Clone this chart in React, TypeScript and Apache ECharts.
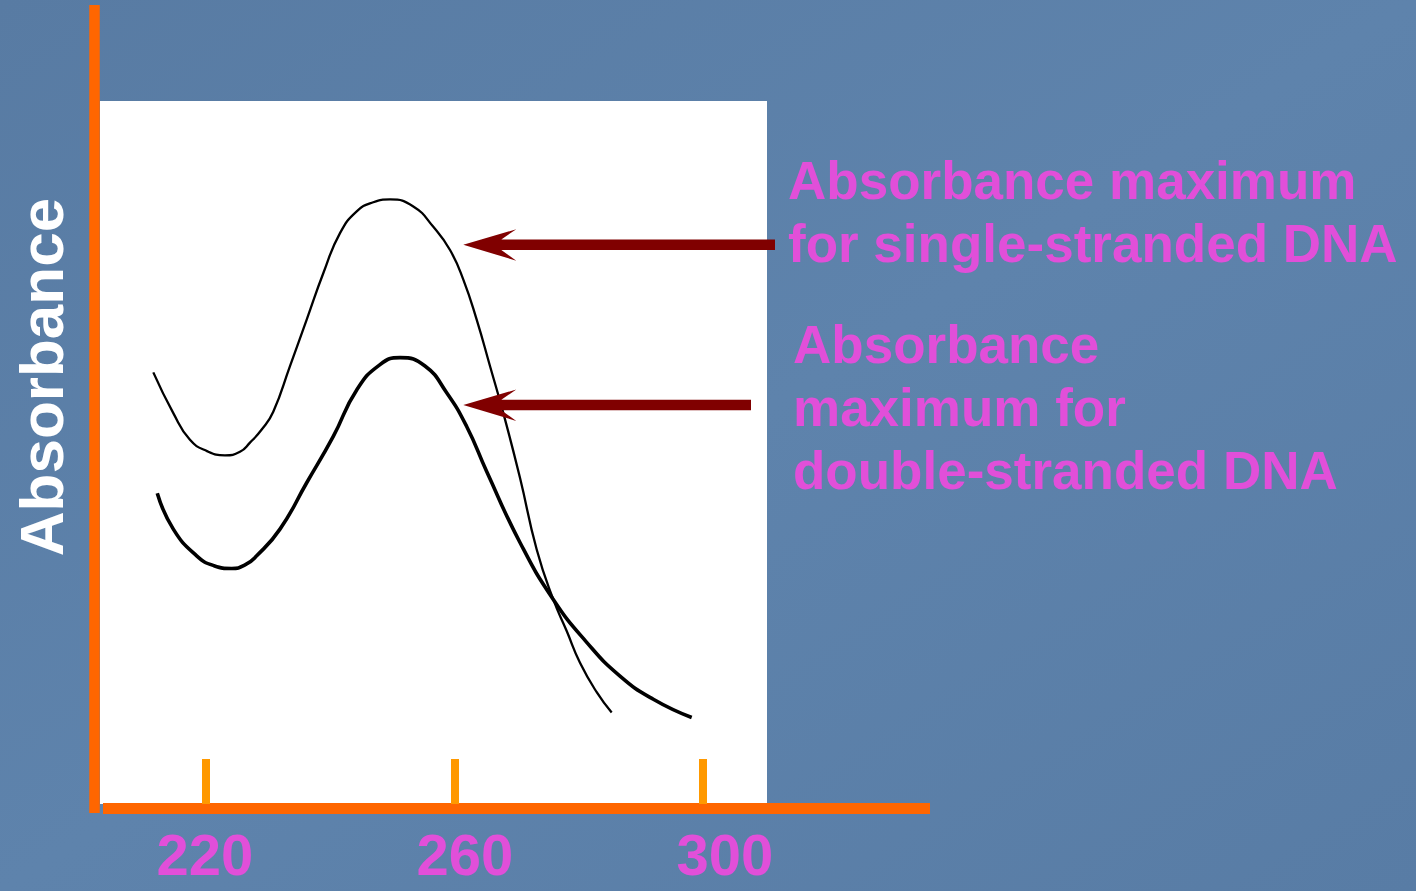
import React, { useEffect, useRef } from "react";
import * as echarts from "echarts";

// Wavelength (nm) and absorbance (arbitrary units)
const ssWavelength = [211.52, 214.74, 217.42, 220.16, 223.06, 225.47, 227.08, 229.0, 230.83, 233.52, 236.21, 238.88, 241.57, 244.26, 246.93, 249.62, 253.37, 256.59, 259.28, 261.42, 263.57, 265.71, 267.86, 270.54, 273.23, 275.9, 278.06, 280.2, 282.89, 285.3];
const ssAbsorbance = [0.614, 0.556, 0.518, 0.502, 0.496, 0.501, 0.514, 0.533, 0.558, 0.623, 0.689, 0.755, 0.812, 0.843, 0.856, 0.86, 0.85, 0.821, 0.788, 0.746, 0.689, 0.623, 0.556, 0.464, 0.362, 0.291, 0.246, 0.201, 0.159, 0.13];

const dsWavelength = [212.16, 214.74, 218.5, 221.29, 224.14, 226.28, 228.16, 231.91, 236.21, 240.49, 244.26, 248.01, 251.23, 255.25, 258.74, 261.96, 265.18, 270.54, 275.9, 281.28, 286.64, 292.0, 298.18];
const dsAbsorbance = [0.442, 0.391, 0.353, 0.339, 0.335, 0.34, 0.353, 0.391, 0.457, 0.523, 0.589, 0.625, 0.635, 0.623, 0.585, 0.537, 0.473, 0.372, 0.291, 0.23, 0.182, 0.149, 0.123];

const tickValues = [220, 260, 300];
const yAxisTitle = "Absorbance";
const ssLabel = ["Absorbance maximum", "for single-stranded DNA"];
const dsLabel = ["Absorbance", "maximum for", "double-stranded DNA"];

const FONT = '"Liberation Sans", Arial, Helvetica, sans-serif';
const PINK = "#e14fd9";
const ARROW = "#800000";
const AXIS_ORANGE = "#ff6600";
const TICK_ORANGE = "#ff9900";

function arrowPoints(tipX: number, y: number, tailX: number): number[][] {
  return [
    [tipX, y],
    [tipX + 53, y - 15.5],
    [tipX + 38, y - 5.3],
    [tailX, y - 5.3],
    [tailX, y + 5.3],
    [tipX + 38, y + 5.3],
    [tipX + 53, y + 16],
  ];
}

export default function App() {
  const ref = useRef<HTMLDivElement>(null);
  useEffect(() => {
    if (!ref.current) return;
    const chart = echarts.init(ref.current, undefined, { renderer: "svg" });
    const ssData = ssWavelength.map((w, i) => [w, ssAbsorbance[i]]);
    const dsData = dsWavelength.map((w, i) => [w, dsAbsorbance[i]]);

    const textEl = (t: string, x: number, y: number, size: number, fill: string) => ({
      type: "text",
      x,
      y,
      style: {
        text: t,
        fill,
        fontSize: size,
        fontWeight: "bold",
        fontFamily: FONT,
        align: "left",
        verticalAlign: "middle",
      },
      z: 10,
    });

    const hiddenAxis = (gridIndex: number) => ({
      type: "value",
      gridIndex,
      min: 0,
      max: 1,
      show: false,
    });

    chart.setOption({
      animation: false,
      backgroundColor: {
        type: "linear",
        x: 0,
        y: 0,
        x2: 1,
        y2: 1,
        colorStops: [
          { offset: 0, color: "#587ba3" },
          { offset: 0.5, color: "#5e83ac" },
          { offset: 1, color: "#587ca5" },
        ],
      },
      grid: [
        // white plot area
        { left: 100, top: 101, width: 667, height: 703, show: true, backgroundColor: "#ffffff", borderWidth: 0 },
        // horizontal axis line + wavelength labels
        { left: 103, top: 5, width: 827, height: 803.5, show: false },
        // vertical axis line
        { left: 94.7, top: 5, width: 800, height: 808, show: false },
      ],
      xAxis: [
        {
          type: "value",
          gridIndex: 0,
          min: 202.94,
          max: 310.3,
          axisLine: { show: false },
          axisTick: {
            show: true,
            inside: true,
            length: 45,
            customValues: tickValues,
            lineStyle: { color: TICK_ORANGE, width: 8 },
          },
          axisLabel: { show: false },
          splitLine: { show: false },
        },
        {
          type: "value",
          gridIndex: 1,
          min: 204.31,
          max: 331.54,
          axisLine: { show: true, onZero: false, lineStyle: { color: AXIS_ORANGE, width: 11, cap: "butt" } },
          axisTick: { show: false },
          axisLabel: {
            show: true,
            customValues: tickValues,
            color: PINK,
            fontSize: 58,
            fontWeight: "bold",
            fontFamily: FONT,
            margin: 17,
          },
          splitLine: { show: false },
        },
        hiddenAxis(2),
      ],
      yAxis: [
        hiddenAxis(0),
        hiddenAxis(1),
        {
          type: "value",
          gridIndex: 2,
          min: 0,
          max: 1,
          axisLine: { show: true, onZero: false, lineStyle: { color: AXIS_ORANGE, width: 10.5, cap: "butt" } },
          axisTick: { show: false },
          axisLabel: { show: false },
          splitLine: { show: false },
        },
      ],
      series: [
        {
          name: "single-stranded DNA",
          type: "line",
          xAxisIndex: 0,
          yAxisIndex: 0,
          data: ssData,
          smooth: 0.5,
          showSymbol: false,
          symbol: "none",
          lineStyle: { color: "#000000", width: 2.3 },
        },
        {
          name: "double-stranded DNA",
          type: "line",
          xAxisIndex: 0,
          yAxisIndex: 0,
          data: dsData,
          smooth: 0.5,
          showSymbol: false,
          symbol: "none",
          lineStyle: { color: "#000000", width: 3.6 },
        },
      ],
      graphic: [
        {
          type: "polygon",
          shape: { points: arrowPoints(463.3, 244.7, 775) },
          style: { fill: ARROW },
          z: 10,
        },
        {
          type: "polygon",
          shape: { points: arrowPoints(463.3, 405, 751) },
          style: { fill: ARROW },
          z: 10,
        },
        {
          type: "text",
          x: 41,
          y: 377,
          rotation: Math.PI / 2,
          style: {
            text: yAxisTitle,
            fill: "#ffffff",
            fontSize: 62,
            fontWeight: "bold",
            fontFamily: FONT,
            align: "center",
            verticalAlign: "middle",
          },
          z: 10,
        },
        textEl(ssLabel[0], 788, 180, 53, PINK),
        textEl(ssLabel[1], 788, 243, 53, PINK),
        textEl(dsLabel[0], 793, 344, 53, PINK),
        textEl(dsLabel[1], 793, 407, 53, PINK),
        textEl(dsLabel[2], 793, 470, 53, PINK),
      ],
    });
    return () => chart.dispose();
  }, []);
  return (
    <div
      ref={ref}
      style={{ position: "absolute", left: 0, top: 0, width: 1416, height: 891, overflow: "hidden" }}
    />
  );
}
